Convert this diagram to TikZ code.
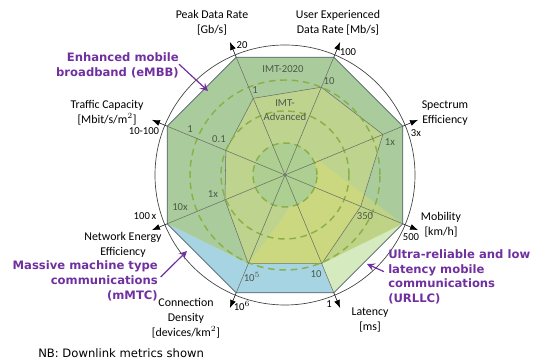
\documentclass[tikz,border=0pt]{standalone}
\usepackage{fontspec}
\setmainfont{Carlito}
\newfontfamily\verdana{DejaVu Sans}
\usetikzlibrary{arrows.meta,calc}
\definecolor{embbgreen}{RGB}{170,204,157}
\definecolor{mmtcblue}{RGB}{166,212,226}
\definecolor{urllcpale}{RGB}{214,234,192}
\definecolor{urllcyellow}{RGB}{232,226,96}
\definecolor{advyellow}{RGB}{236,230,110}
\definecolor{diskgreen}{RGB}{174,207,146}
\definecolor{ringgreen}{RGB}{138,176,72}
\definecolor{scenario}{RGB}{112,48,160}
\definecolor{axisgray}{RGB}{105,112,98}
\definecolor{edgegray}{RGB}{80,95,105}
\definecolor{valgray}{RGB}{78,88,72}

\begin{document}
\begin{tikzpicture}[x=0.75pt,y=0.75pt,
  axisname/.style={align=center,font=\fontsize{8.9}{11.2}\selectfont,inner sep=0pt},
  val/.style={font=\fontsize{8}{9}\selectfont,inner sep=0pt},
  inval/.style={val,text=valgray},
  scen/.style={font=\verdana\bfseries\fontsize{8.7}{11}\selectfont,text=scenario,inner sep=0pt},
  scenarrow/.style={scenario,line width=0.9pt,-{Stealth[length=6pt,width=6pt,inset=2.5pt]}},
  axisarrow/.style={black,line width=0.4pt,-{Latex[length=6pt,width=4.5pt]}},
  ring/.style={ringgreen,line width=1.1pt,dash pattern=on 5pt off 3.5pt}]
  \useasboundingbox (0,0) rectangle (537,360);
  \coordinate (c) at (285,185);
  \foreach \n/\a in {pk/112.5,ue/67.5,se/22.5,mo/-22.5,la/-67.5,cd/-112.5,ne/-157.5,tc/157.5}{
    \coordinate (\n)     at ($(c)+(\a:127.5)$);
    \coordinate (tip-\n) at ($(c)+(\a:144)$);
  }
  \foreach \n/\a/\r in {pk/112.5/83,ue/67.5/95,se/22.5/106,mo/-22.5/82,la/-67.5/96,cd/-112.5/96,ne/-157.5/65,tc/157.5/64}
    \coordinate (adv-\n) at ($(c)+(\a:\r)$);
  \coordinate (u1) at ($(c)+(29.5:34.5)$);
  \coordinate (u2) at ($(c)+(-92:42)$);
  \fill[mmtcblue]  (ne) -- (cd) -- (la) -- (adv-la) -- (adv-cd) -- cycle;
  \fill[urllcpale] (mo) -- (la) -- (adv-la) -- cycle;
  \fill[embbgreen] (tc) -- (pk) -- (ue) -- (se) -- (mo) -- (adv-la) -- (adv-cd) -- (ne) -- cycle;
  \fill[urllcyellow,fill opacity=0.35] (u1) -- (mo) -- (adv-la) -- (adv-cd) -- (u2) -- cycle;
  \filldraw[fill=advyellow,fill opacity=0.3,draw=axisgray,line width=0.4pt]
    (adv-pk) -- (adv-ue) -- (adv-se) -- (adv-mo) -- (adv-la) -- (adv-cd) -- (adv-ne) -- (adv-tc) -- cycle;
  \fill[diskgreen] (c) circle (32);
  \draw[ring] (c) circle (32);
  \draw[ring] (c) circle (64);
  \draw[ring] (c) circle (95);
  \foreach \n in {pk,ue,se,mo,la,cd,ne,tc}{
    \draw[axisgray,line width=0.4pt] (c) -- (\n);
    \draw[axisarrow] (\n) -- (tip-\n);
  }
  \draw[edgegray,line width=0.5pt] (pk) -- (ue) -- (se) -- (mo) -- (la) -- (cd) -- (ne) -- (tc) -- cycle;
  \draw[black!75,line width=0.5pt] (c) circle (130);
  % axis names
  \node[axisname] (peak)    at (212,337)   {Peak Data Rate\\{}[Gb/s]};
  \node[axisname] (user)    at (338,337)   {User Experienced\\Data Rate [Mb/s]};
  \node[axisname] (spec)    at (445,246.5) {Spectrum\\Efficiency};
  \node[axisname] (mob)     at (441,135.5) {Mobility\\{}[km/h]};
  \node[axisname] (lat)     at (370,40)    {Latency\\{}[ms]};
  \node[axisname] (dens)    at (186,42)    {Connection\\Density\\{}[devices/km$^2$]};
  \node[axisname] (energy)  at (123,115)   {Network Energy\\Efficiency};
  \node[axisname] (traffic) at (107,247.5) {Traffic Capacity\\{}[Mbit/s/m$^2$]};
  % values
  \node[val]   (v20)    at (242,315) {20};
  \node[val]   (v100)   at (348,308) {100};
  \node[val]   (v3x)    at (416,227) {3x};
  \node[val]   (v500)   at (411,123) {500};
  \node[val]   (v1ms)   at (329,56)  {1};
  \node[val]   (v1e6)   at (242,54)  {10$^6$};
  \node[val]   (v100x)  at (145,144) {100\,x};
  \node[val]   (v10100) at (144,229) {10-100};
  \node[inval] (v10u)   at (329,279) {10};
  \node[inval] (v1g)    at (255,270) {1};
  \node[inval] (v1xs)   at (390,218) {1x};
  \node[inval] (v350)   at (365,144) {350};
  \node[inval] (v10ms)  at (316,86)  {10};
  \node[inval] (v1e5)   at (252,83)  {10$^5$};
  \node[inval] (v10x)   at (180,153) {10x};
  \node[inval] (v1xe)   at (213,166) {1x};
  \node[inval] (v1t)    at (190,231) {1};
  \node[inval] (v01)    at (219,221) {0.1};
  \node[inval] (imt2020) at (283,291) {IMT-2020};
  \node[inval,align=center,font=\fontsize{8}{10}\selectfont] (imtadv) at (285,250) {IMT-\\Advanced};
  % usage scenarios
  \node[scen,anchor=east,align=right] (embb)  at (179,294.5) {Enhanced mobile\\broadband (eMBB)};
  \node[scen,anchor=east,align=right] (mmtc)  at (158,79)    {Massive machine type\\communications\\(mMTC)};
  \node[scen,anchor=west,align=left]  (urllc) at (388,83)    {Ultra-reliable and low\\latency mobile\\communications\\(URLLC)};
  \coordinate (embbtip)  at (208,269);
  \coordinate (mmtctip)  at (187,109);
  \coordinate (urllctip) at (367,96);
  \draw[scenarrow] ([yshift=1pt]embb.east) -- (embbtip);
  \draw[scenarrow] ([xshift=2pt,yshift=3pt]mmtc.east) -- (mmtctip);
  \draw[scenarrow] ([xshift=-3pt,yshift=4pt]urllc.west) -- (urllctip);
  \node[font=\verdana\fontsize{8.7}{10}\selectfont,anchor=west,inner sep=0pt] (nb) at (38,7) {NB: Downlink metrics shown};
\end{tikzpicture}
\end{document}
